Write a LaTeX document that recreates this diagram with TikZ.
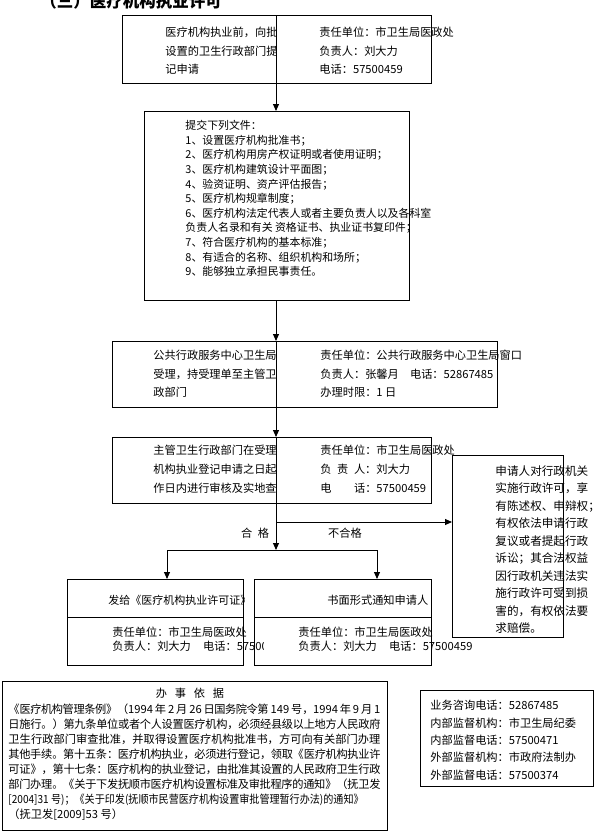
\documentclass[tikz,border=0pt]{standalone}
\usepackage{graphicx}
\usepackage{fontspec}
\setmainfont{Noto Sans CJK SC}
\usetikzlibrary{arrows.meta}
\newcommand{\setfs}[2]{\fontsize{#1}{#2}\selectfont}
\tikzset{
  box/.style={draw, line width=1pt, anchor=north west, inner sep=0pt},
  txt/.style={anchor=north west, inner sep=0pt, align=left},
  arr/.style={line width=0.9pt, -{Triangle[length=7pt,width=6pt]}}
}

\begin{document}
\begin{tikzpicture}[x=1pt, y=-1pt, line width=0.9pt]
  \useasboundingbox (0,0) rectangle (603,831);
  \clip (0,0) rectangle (603,831);
  \coordinate (mid) at (276,0);

  % title, cut by the page edge
  \node[anchor=base west, inner sep=0pt, font=\setfs{16.5}{20}\bfseries] (title) at (40,7) {（三）医疗机构执业许可};

  % boxes
  \node[box, minimum width=309pt, minimum height=68pt] (apply) at (122,15) {};
  \node[box, minimum width=265pt, minimum height=189pt] (docs) at (144,111) {};
  \node[box, minimum width=385pt, minimum height=66pt] (accept) at (112,341) {};
  \node[box, minimum width=319pt, minimum height=66pt] (review) at (112,437) {};
  \node[box, minimum width=111pt, minimum height=182pt] (rights) at (452,455) {};
  \node[box, minimum width=176pt, minimum height=86pt] (issue) at (67,579) {};
  \node[box, minimum width=177pt, minimum height=86pt] (notify) at (254,579) {};
  \node[box, minimum width=385pt, minimum height=149pt] (basis) at (2,681) {};
  \node[box, minimum width=173pt, minimum height=96pt] (contact) at (420,690) {};

  \coordinate (row) at (0,617);
  \draw[line width=1pt] (issue.west |- row) -- (issue.east |- row);
  \draw[line width=1pt] (notify.west |- row) -- (notify.east |- row);

  % step 1
  \begin{scope}
    \clip (apply.north west) rectangle (mid |- apply.south);
    \node[txt, font=\setfs{11.2}{18.5}] (applyL) at (165,27) {医疗机构执业前，向批准\\设置的卫生行政部门提出\\记申请};
  \end{scope}
  \node[txt, font=\setfs{11.2}{18.5}] (applyR) at (319,27) {责任单位：市卫生局医政处\\负责人：刘大力\\电话：57500459};

  % step 2
  \node[txt, font=\setfs{10.9}{14.6}] (docsT) at (185,120) {提交下列文件：\\
    1、设置医疗机构批准书；\\
    2、医疗机构用房产权证明或者使用证明；\\
    3、医疗机构建筑设计平面图；\\
    4、验资证明、资产评估报告；\\
    5、医疗机构规章制度；\\
    6、医疗机构法定代表人或者主要负责人以及各科室\\
    负责人名录和有关 资格证书、执业证书复印件；\\
    7、符合医疗机构的基本标准；\\
    8、有适合的名称、组织机构和场所；\\
    9、能够独立承担民事责任。};

  % step 3
  \begin{scope}
    \clip (accept.north west) rectangle (mid |- accept.south);
    \node[txt, font=\setfs{11.2}{18.5}] (acceptL) at (153,350) {公共行政服务中心卫生局窗\\受理，持受理单至主管卫生\\政部门};
  \end{scope}
  \node[txt, font=\setfs{11.2}{18.5}] (acceptR) at (320,350) {责任单位：公共行政服务中心卫生局窗口\\负责人：张馨月\hspace{1em}电话：52867485\\办理时限：1 日};

  % step 4
  \begin{scope}
    \clip (review.north west) rectangle (mid |- review.south);
    \node[txt, font=\setfs{11.2}{19}] (reviewL) at (153,445) {主管卫生行政部门在受理医\\机构执业登记申请之日起45\\作日内进行审核及实地查勘};
  \end{scope}
  \node[txt, font=\setfs{11.2}{19}] (reviewR) at (320,445) {责任单位：市卫生局医政处\\负\hspace{0.5em}责\hspace{0.5em}人：刘大力\\电\hspace{2em}话：57500459};

  % rights of the applicant
  \node[txt, font=\setfs{11.6}{17.5}] (rightsT) at (495,465) {申请人对行政机关\\实施行政许可，享\\有陈述权、申辩权；\\有权依法申请行政\\复议或者提起行政\\诉讼；其合法权益\\因行政机关违法实\\施行政许可受到损\\害的，有权依法要\\求赔偿。};

  % results
  \begin{scope}
    \clip (issue.north west) rectangle (issue.east |- row);
    \node[txt, font=\setfs{11}{14}] (issueT) at (108,595) {发给《医疗机构执业许可证》};
  \end{scope}
  \begin{scope}
    \clip (issue.west |- row) rectangle (263,665);
    \node[txt, font=\setfs{11.2}{14}] (issueB) at (112,627) {责任单位：市卫生局医政处\\负责人：刘大力\hspace{1.1em}电话：57500459};
  \end{scope}
  \node[txt, font=\setfs{11.2}{14}] (notifyT) at (327,595) {书面形式通知申请人};
  \node[txt, font=\setfs{11.2}{14}] (notifyB) at (298,627) {责任单位：市卫生局医政处\\负责人：刘大力\hspace{1.1em}电话：57500459};

  % legal basis
  \node[font=\setfs{11.2}{15}] (basisH) at (190,693) {办\hspace{0.7em}事\hspace{0.7em}依\hspace{0.7em}据};
  \node[txt, text width=372pt, align=justify, font={\setfs{11.2}{15.1}\XeTeXlinebreaklocale "zh"\XeTeXlinebreakskip=0pt plus 1pt minus 0.6pt\tolerance=10000}] (basisT) at (8,703) {《医疗机构管理条例》（1994 年 2 月 26 日国务院令第 149 号，1994 年 9 月 1\linebreak\relax
    日施行。）第九条单位或者个人设置医疗机构，必须经县级以上地方人民政府\linebreak\relax
    卫生行政部门审查批准，并取得设置医疗机构批准书，方可向有关部门办理\linebreak\relax
    其他手续。第十五条：医疗机构执业，必须进行登记，领取《医疗机构执业许\linebreak\relax
    可证》，第十七条：医疗机构的执业登记，由批准其设置的人民政府卫生行政\linebreak\relax
    部门办理。《关于下发抚顺市医疗机构设置标准及审批程序的通知》（抚卫发\linebreak\relax
    \scalebox{0.9}[1]{[2004]31 号)；《关于印发(抚顺市民营医疗机构设置审批管理暂行办法)的通知》}\linebreak\relax
    （抚卫发[2009]53 号）};

  % contacts
  \node[txt, font=\setfs{11.2}{17.3}] (contactT) at (430,700) {业务咨询电话：52867485\\内部监督机构：市卫生局纪委\\内部监督电话：57500471\\外部监督机构：市政府法制办\\外部监督电话：57500374};

  % connectors
  \draw[arr] (mid |- apply.north) -- (mid |- docs.north);
  \draw[arr] (mid |- docs.south) -- (mid |- accept.north);
  \draw[arr] (mid |- accept.north) -- (mid |- review.north);
  \coordinate (split) at (276,550);
  \coordinate (fail) at (276,522);
  \coordinate (lsplit) at (167,550);
  \coordinate (rsplit) at (377,550);
  \draw[arr] (mid |- review.north) -- (split);
  \draw (lsplit) -- (rsplit);
  \draw[arr] (lsplit) -- (lsplit |- issue.north);
  \draw[arr] (rsplit) -- (rsplit |- notify.north);
  \draw[arr] (fail) -- (fail -| rights.west);
  \node[font=\setfs{11.2}{14}] (pass) at (255,533) {合\hspace{0.5em}格};
  \node[font=\setfs{11.2}{14}] (failT) at (345,533) {不合格};
\end{tikzpicture}
\end{document}
